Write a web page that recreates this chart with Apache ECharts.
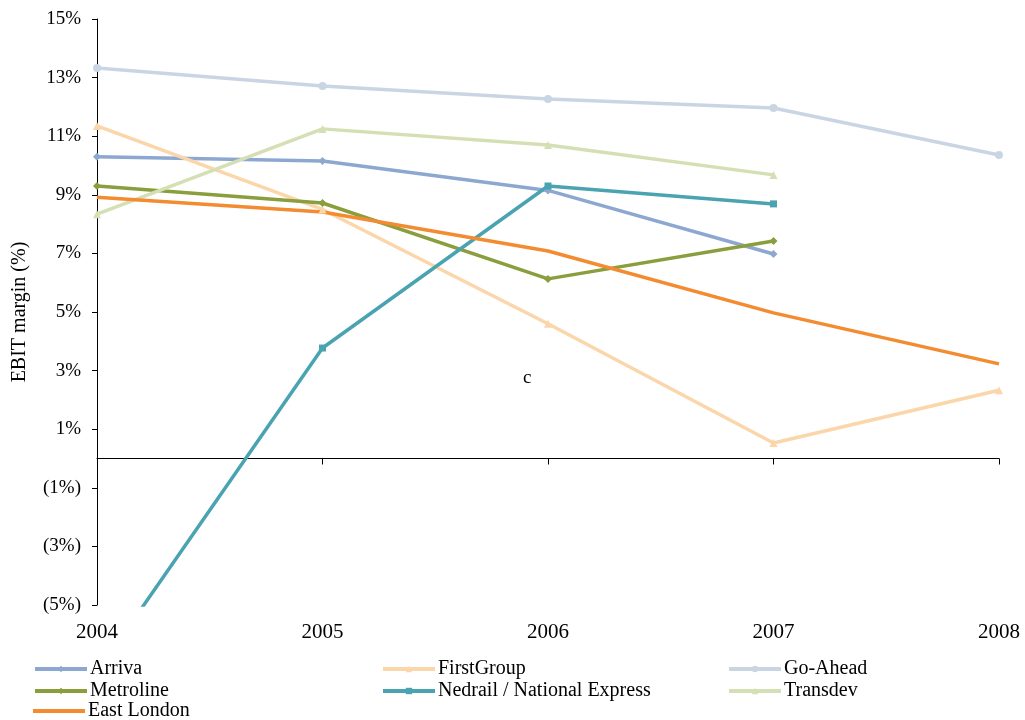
<!DOCTYPE html>
<html>
<head>
<meta charset="utf-8">
<script src="https://cdn.jsdelivr.net/npm/echarts@6/dist/echarts.min.js"></script>
<style>
  html, body { margin: 0; padding: 0; background: #fff; }
  #chart { width: 1025px; height: 720px; }
</style>
</head>
<body>
<div id="chart"></div>
<script>
(function () {

    var years = ['2004', '2005', '2006', '2007', '2008'];
    var yTicks = [-5, -3, -1, 1, 3, 5, 7, 9, 11, 13, 15];

    // EBIT margin, %
    var arriva    = [10.3, 10.15, 9.15, 6.98, null];
    var firstGroup = [11.35, 8.5, 4.6, 0.53, 2.33];
    var goAhead   = [13.33, 12.71, 12.27, 11.96, 10.36];
    var metroline = [9.3, 8.72, 6.13, 7.42, null];
    var nedrail   = [-7.3, 3.77, 9.3, 8.69, null];
    var transdev  = [8.34, 11.25, 10.7, 9.68, null];
    var eastLondon = [8.92, 8.41, 7.08, 4.97, 3.23];

    var seriesNames = ['Arriva', 'FirstGroup', 'Go-Ahead', 'Metroline',
        'Nedrail / National Express', 'Transdev', 'East London'];
    var seriesData = [arriva, firstGroup, goAhead, metroline, nedrail, transdev, eastLondon];
    var colors = ['#8DA8D0', '#FAD6AA', '#CAD5E4', '#8A9E3D', '#4AA3B1', '#D5DFB4', '#F38B31'];
    var symbols = ['diamond', 'triangle', 'circle', 'diamond', 'rect', 'triangle', 'none'];

    var font = '"Liberation Serif", "Times New Roman", serif';

    var series = seriesNames.map(function (name, i) {
        return {
            name: name,
            type: 'line',
            data: seriesData[i],
            xAxisIndex: 0,
            symbol: symbols[i],
            symbolSize: symbols[i] === 'rect' ? 7 : 8,
            showSymbol: symbols[i] !== 'none',
            lineStyle: {width: 3.5, color: colors[i]},
            itemStyle: {color: colors[i]},
            connectNulls: false,
            z: 3
        };
    });

    // legend: 3 columns, one legend per entry
    var legendPos = [[33, 659], [381, 659], [727, 659],
                     [33, 681], [381, 681], [727, 681],
                     [33, 701]];
    var legends = seriesNames.map(function (name, i) {
        var noMark = symbols[i] === 'none';
        return {
            left: legendPos[i][0],
            top: legendPos[i][1],
            data: noMark ? [{name: name, icon: 'rect'}] : [name],
            itemWidth: 52,
            itemHeight: noMark ? 4 : 8,
            itemGap: 0,
            padding: 0,
            selectedMode: false,
            lineStyle: {width: 4},
            textStyle: {fontFamily: font, fontSize: 20, color: '#000', padding: [0, 0, 0, -2]}
        };
    });

    var option = {
        animation: false,
        color: colors,
        legend: legends,
        grid: {left: 97, right: 26, top: 19, bottom: 115, outerBoundsMode: 'none', containLabel: false},
        xAxis: [
            {
                type: 'category',
                data: years,
                boundaryGap: false,
                axisLine: {onZero: true, lineStyle: {color: '#000', width: 1}},
                axisTick: {show: true, length: 6, lineStyle: {color: '#000'}},
                axisLabel: {show: false},
                splitLine: {show: false}
            },
            {
                type: 'category',
                data: years,
                boundaryGap: false,
                position: 'bottom',
                axisLine: {show: false, onZero: false},
                axisTick: {show: false},
                axisLabel: {fontFamily: font, fontSize: 21, color: '#000', margin: 17}
            }
        ],
        yAxis: {
            type: 'value',
            min: yTicks[0],
            max: yTicks[yTicks.length - 1],
            interval: 2,
            name: 'EBIT margin (%)',
            nameLocation: 'middle',
            nameGap: 67,
            nameTextStyle: {fontFamily: font, fontSize: 20, color: '#000'},
            axisLine: {show: true, lineStyle: {color: '#000', width: 1}},
            axisTick: {show: true, length: 5, lineStyle: {color: '#000'}},
            splitLine: {show: false},
            axisLabel: {
                fontFamily: font,
                fontSize: 19,
                color: '#000',
                margin: 16,
                formatter: function (v) {
                    return v < 0 ? '(' + Math.abs(v) + '%)' : v + '%';
                }
            }
        },
        graphic: [
            {
                type: 'text',
                left: 523,
                top: 369,
                style: {text: 'c', font: '19px ' + font, fill: '#000'}
            }
        ],
        series: series
    };

    var chart = echarts.init(document.getElementById('chart'));
    chart.setOption(option);

})();
</script>
</body>
</html>
